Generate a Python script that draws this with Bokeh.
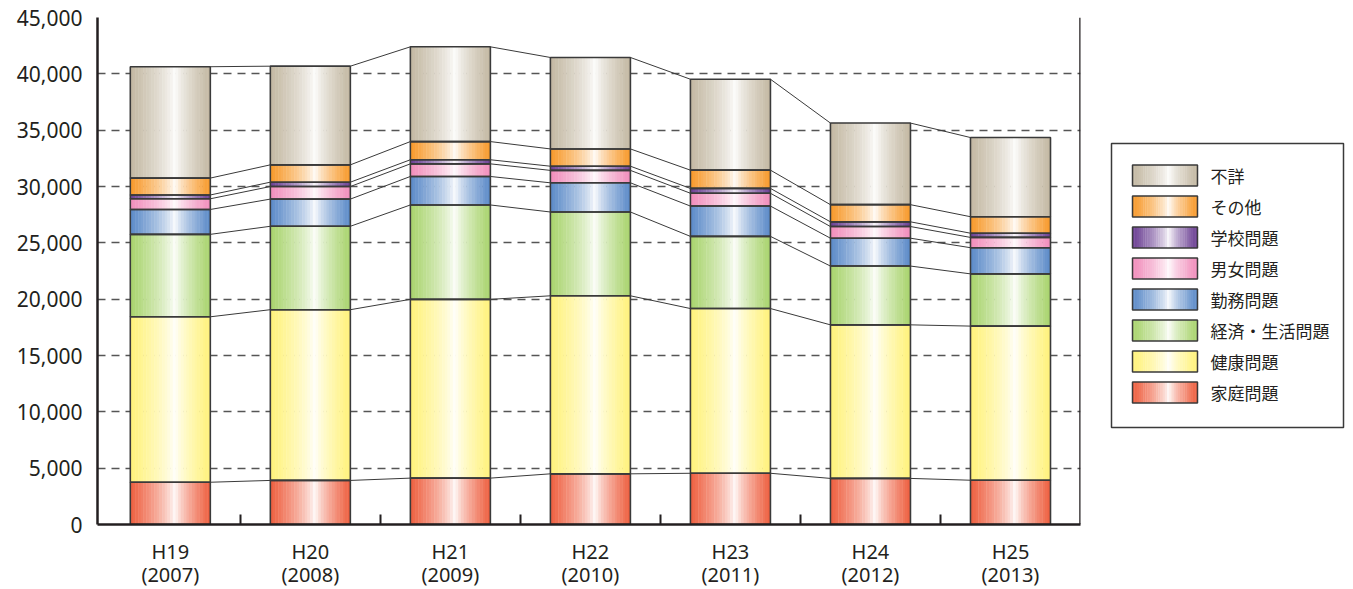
import numpy as np
from bokeh.plotting import figure
from bokeh.models import Range1d, FixedTicker, ColumnDataSource, NumeralTickFormatter, Span, LinearAxis
from bokeh.layouts import row
from bokeh.core.properties import value
from bokeh.embed import file_html
from bokeh.resources import INLINE

# ---- data ----
era_labels = ["H19", "H20", "H21", "H22", "H23", "H24", "H25"]
year_labels = ["(2007)", "(2008)", "(2009)", "(2010)", "(2011)", "(2012)", "(2013)"]
series_names = ["家庭問題", "健康問題", "経済・生活問題", "勤務問題",
                "男女問題", "学校問題", "その他", "不詳"]
katei = [3751, 3912, 4117, 4497, 4547, 4091, 3930]
kenko = [14684, 15153, 15867, 15802, 14621, 13629, 13680]
keizai = [7318, 7404, 8377, 7438, 6406, 5219, 4636]
kinmu = [2207, 2412, 2528, 2590, 2689, 2472, 2323]
danjo = [949, 1115, 1121, 1103, 1138, 1035, 912]
gakko = [338, 387, 364, 371, 429, 417, 375]
sonota = [1500, 1538, 1613, 1533, 1621, 1524, 1462]
fusho = [9884, 8759, 8411, 8118, 8070, 7243, 7027]
y_ticks = [0, 5000, 10000, 15000, 20000, 25000, 30000, 35000, 40000, 45000]

series_values = [katei, kenko, keizai, kinmu, danjo, gakko, sonota, fusho]
edge_colors = ["#ee5f3f", "#fff27a", "#a8d36c", "#5b8ac8",
               "#f18dbb", "#6b3f93", "#f7992a", "#c3b8a2"]

FONT = "Noto Sans"
JFONT = "Noto Sans CJK JP"
TXT = "#231f20"
NSTRIP = 30
W = 80 / 140.0


def hex2rgb(h):
    h = h.lstrip("#")
    return np.array([int(h[i:i + 2], 16) for i in (0, 2, 4)], dtype=float)


def gradient(edge, n, center=0.56):
    e = hex2rgb(edge)
    wht = np.array([255.0, 255.0, 255.0])
    out = []
    for j in range(n):
        pos = (j + 0.5) / n
        d = (center - pos) / center if pos < center else (pos - center) / (1 - center)
        t = d ** 0.7
        c = wht * (1 - t) + e * t
        out.append("#%02x%02x%02x" % tuple(int(round(v)) for v in c))
    return out


n = len(era_labels)
xs = np.arange(n)
cum = np.zeros(n)
bottoms, tops = [], []
for vals in series_values:
    b = cum.copy()
    cum = cum + np.array(vals, dtype=float)
    bottoms.append(b)
    tops.append(cum.copy())

p = figure(frame_width=983, frame_height=507,
           x_range=Range1d(-0.52, 6.5), y_range=Range1d(0, 45000),
           output_backend="svg", toolbar_location=None, title=None,
           min_border_left=97, min_border_right=10, min_border_top=17, min_border_bottom=60)
p.outline_line_color = None
p.background_fill_color = "white"

# gradient strips
for k, vals in enumerate(series_values):
    cols = gradient(edge_colors[k], NSTRIP)
    sx, sb, st, sc = [], [], [], []
    for i in range(n):
        for j in range(NSTRIP):
            sx.append(xs[i] - W / 2 + (j + 0.5) * W / NSTRIP)
            sb.append(bottoms[k][i])
            st.append(tops[k][i])
            sc.append(cols[j])
    src = ColumnDataSource(dict(x=sx, bottom=sb, top=st, color=sc))
    p.vbar(x="x", bottom="bottom", top="top", width=W / NSTRIP * 1.15,
           fill_color="color", line_color=None, source=src)

# outlines
for k in range(len(series_values)):
    p.vbar(x=xs, bottom=bottoms[k], top=tops[k], width=W,
           fill_color=None, line_color="#3a3a3a", line_width=1.6)

# connector lines
for k in range(len(series_values)):
    p.segment(x0=xs[:-1] + W / 2, y0=tops[k][:-1], x1=xs[1:] - W / 2, y1=tops[k][1:],
              line_color="#3a3a3a", line_width=1)

# axes
p.xaxis.ticker = FixedTicker(ticks=list(range(n)), minor_ticks=[i + 0.5 for i in range(n - 1)])
p.xaxis.major_label_overrides = {i: era_labels[i] for i in range(n)}
p.xaxis.major_tick_in = 0
p.xaxis.major_tick_out = 0
p.xaxis.minor_tick_in = 10
p.xaxis.minor_tick_out = 0
p.xaxis.minor_tick_line_width = 2
p.xaxis.minor_tick_line_color = TXT
p.xaxis.axis_line_width = 2.5
p.xaxis.axis_line_color = TXT
p.xaxis.major_label_text_font = FONT
p.xaxis.major_label_text_font_size = "20px"
p.xaxis.major_label_text_color = TXT
p.xaxis.major_label_standoff = 13

ax2 = LinearAxis(ticker=FixedTicker(ticks=list(range(n))),
                 major_label_overrides={i: year_labels[i] for i in range(n)},
                 major_tick_in=0, major_tick_out=0, minor_tick_in=0, minor_tick_out=0,
                 axis_line_color=None, major_label_standoff=-7,
                 major_label_text_font=FONT, major_label_text_font_size="20px",
                 major_label_text_color=TXT)
p.add_layout(ax2, "below")

p.yaxis.ticker = FixedTicker(ticks=y_ticks)
p.yaxis.formatter = NumeralTickFormatter(format="0,0")
p.yaxis.major_tick_in = 0
p.yaxis.major_tick_out = 0
p.yaxis.minor_tick_in = 0
p.yaxis.minor_tick_out = 0
p.yaxis.axis_line_width = 2.5
p.yaxis.axis_line_color = TXT
p.yaxis.major_label_text_font = FONT
p.yaxis.major_label_text_font_size = "21px"
p.yaxis.major_label_text_color = TXT
p.yaxis.major_label_standoff = 15

p.xgrid.grid_line_color = None
p.ygrid.ticker = FixedTicker(ticks=y_ticks[1:])
p.ygrid.grid_line_color = "#555555"
p.ygrid.grid_line_dash = "8 6"
p.ygrid.grid_line_width = 1.5

p.add_layout(Span(location=6.5, dimension="height", line_color=TXT, line_width=2.5))

# ---- legend figure (frame aligned with the main frame, which starts 17px down) ----
LH = 507
OFF = 17
lg = figure(frame_width=255, frame_height=LH, x_range=Range1d(0, 255), y_range=Range1d(LH, 0),
            output_backend="svg", toolbar_location=None, title=None,
            x_axis_location=None, y_axis_location=None,
            min_border_left=0, min_border_right=0, min_border_top=0, min_border_bottom=0)
lg.outline_line_color = None
lg.xgrid.grid_line_color = None
lg.ygrid.grid_line_color = None

lg.quad(left=[21], right=[253], top=[143 - OFF], bottom=[427 - OFF],
        fill_color="white", line_color="#3a3a3a", line_width=1.5)

legend_order = list(range(len(series_names)))[::-1]
for r, k in enumerate(legend_order):
    yc = 175 - OFF + 31 * r
    cols = gradient(edge_colors[k], NSTRIP)
    sx = [42 + (j + 0.5) * 65 / NSTRIP for j in range(NSTRIP)]
    lg.rect(x=sx, y=[yc] * NSTRIP, width=65 / NSTRIP * 1.15, height=21,
            fill_color=cols, line_color=None)
    lg.rect(x=[42 + 32.5], y=[yc], width=65, height=21,
            fill_color=None, line_color="#3a3a3a", line_width=1.5)
    lg.text(x=[120], y=[yc], text=[series_names[k]], text_font=value(JFONT),
            text_font_size="17px", text_color=TXT, text_baseline="middle", text_align="left")

layout = row(p, lg)
open("out.html", "w").write(file_html(layout, INLINE))
